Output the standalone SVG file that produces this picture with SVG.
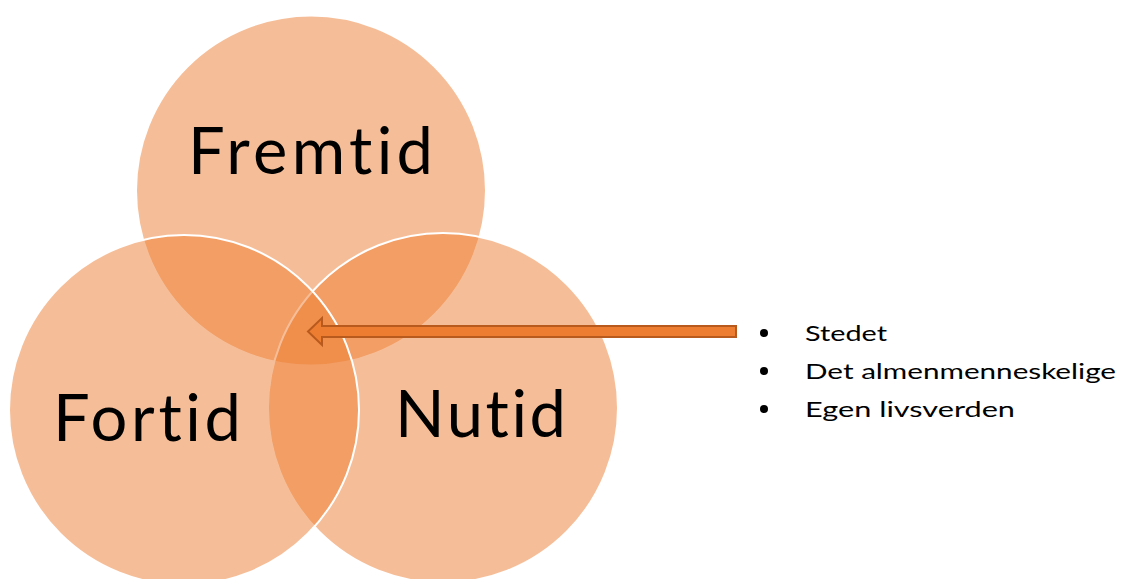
<svg xmlns="http://www.w3.org/2000/svg" width="1121" height="579" viewBox="0 0 1121 579">
<style>
.c{fill:#ED7D31;fill-opacity:0.5;stroke:#FFFFFF;stroke-width:2}
.big{font-family:Lato,"Noto Sans",sans-serif;font-size:65px;fill:#000;font-variant-ligatures:none}
.li{font-family:Lato,"Noto Sans",sans-serif;font-size:22px;fill:#000;font-variant-ligatures:none}
</style>
<rect width="1121" height="579" fill="#FFFFFF"/>
<g id="fremtid"><circle class="c" cx="311" cy="190.5" r="175"/></g>
<g id="nutid"><circle class="c" cx="443" cy="408" r="175"/></g>
<g id="fortid"><circle class="c" cx="184" cy="410" r="175"/></g>
<g id="labels">
<text class="big" x="188" y="174" textLength="245" lengthAdjust="spacing">Fremtid</text>
<text class="big" x="53" y="441" textLength="188" lengthAdjust="spacing">Fortid</text>
<text class="big" x="395" y="437" textLength="171" lengthAdjust="spacing">Nutid</text>
</g>
<g id="connectors">
<polygon points="736,326 322,326 322,318 308,331.5 322,345 322,337 736,337" fill="#ED7D31" stroke="#B85A1E" stroke-width="2"/>
</g>
<g id="bullets">
<circle cx="764" cy="333" r="4" fill="#000"/>
<circle cx="764" cy="371" r="4" fill="#000"/>
<circle cx="764" cy="409" r="4" fill="#000"/>
<text class="li" x="805" y="341" textLength="82" lengthAdjust="spacingAndGlyphs">Stedet</text>
<text class="li" x="805" y="379" textLength="311" lengthAdjust="spacingAndGlyphs">Det almenmenneskelige</text>
<text class="li" x="805" y="417" textLength="210" lengthAdjust="spacingAndGlyphs">Egen livsverden</text>
</g>
</svg>
